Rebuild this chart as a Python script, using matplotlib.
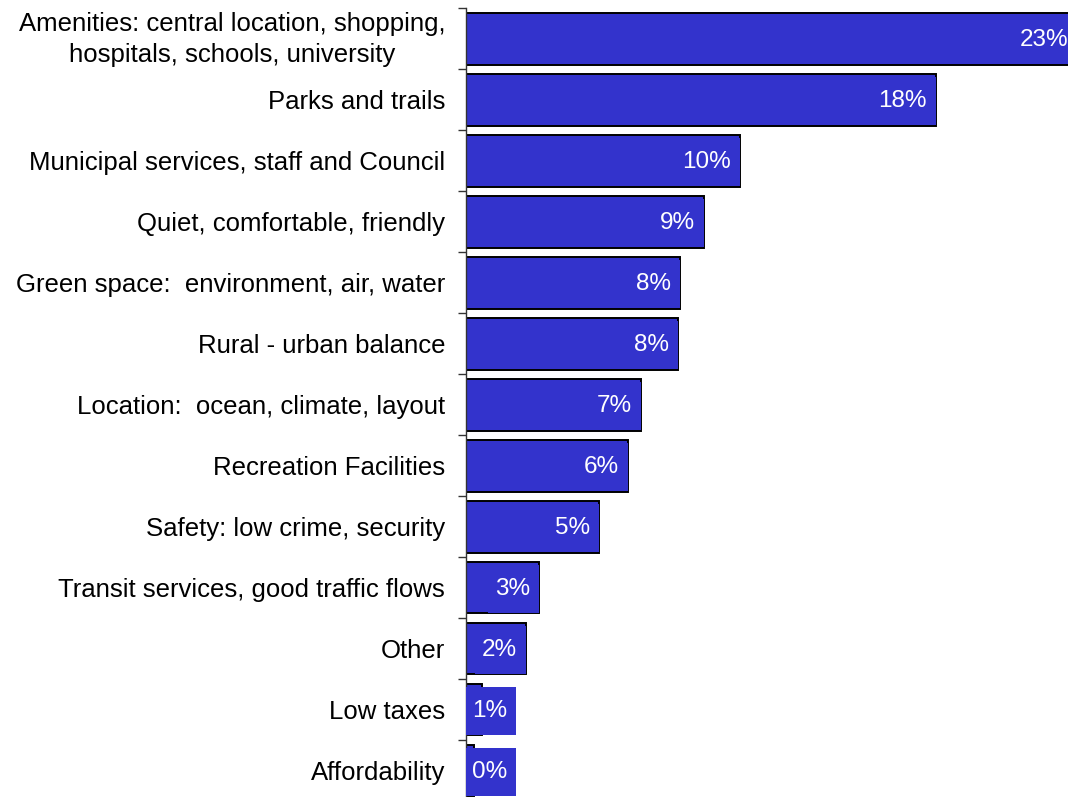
import matplotlib
matplotlib.use("Agg")
import matplotlib.pyplot as plt
from matplotlib.patches import Rectangle
from matplotlib.ticker import FixedLocator, NullFormatter
from matplotlib.transforms import ScaledTranslation

categories = [
    "Amenities: central location, shopping,\nhospitals, schools, university",
    "Parks and trails",
    "Municipal services, staff and Council",
    "Quiet, comfortable, friendly",
    "Green space:  environment, air, water",
    "Rural - urban balance",
    "Location:  ocean, climate, layout",
    "Recreation Facilities",
    "Safety: low crime, security",
    "Transit services, good traffic flows",
    "Other",
    "Low taxes",
    "Affordability",
]
values = [23.4, 18.0, 10.5, 9.1, 8.2, 8.1, 6.7, 6.2, 5.1, 2.8, 2.3, 0.6, 0.3]
labels = ["23%", "18%", "10%", "9%", "8%", "8%", "7%", "6%", "5%", "3%", "2%", "1%", "0%"]

BLUE = "#3333CC"
plt.rcParams["font.family"] = ["Liberation Sans", "DejaVu Sans"]

W, H = 1068, 797
fig = plt.figure(figsize=(W / 100, H / 100), dpi=100)
ax = fig.add_axes([466 / W, 0.0, 1 - 466 / W, 1 - 8.3 / H])

n = len(categories)
ypos = list(range(n))
bar_h = 0.85
ax.barh(ypos, values, height=bar_h, color=BLUE, edgecolor="black", linewidth=1.4, zorder=2)

ax.set_xlim(0, 23.05)
ax.set_ylim(n - 0.5 - 4 / 61, -0.5)

ax.set_yticks(ypos)
ax.set_yticklabels(categories, fontsize=18.5)
for t in ax.get_yticklabels():
    t.set_multialignment("center")
    t.set_linespacing(1.35)
ax.yaxis.set_minor_locator(FixedLocator([i - 0.5 for i in range(n + 1)]))
ax.yaxis.set_minor_formatter(NullFormatter())
ax.tick_params(axis="y", which="major", length=0, pad=15)
ax.tick_params(axis="y", which="minor", length=6, width=1, color="#333333")
ax.set_xticks([])
for s in ["top", "right", "bottom"]:
    ax.spines[s].set_visible(False)
ax.spines["left"].set_color("#333333")
ax.spines["left"].set_linewidth(1)

# nudge the two-line label up a little
first = ax.get_yticklabels()[0]
first.set_transform(first.get_transform() + ScaledTranslation(0, 5 / 100, fig.dpi_scale_trans))

# value labels
fig.canvas.draw()
px_per_unit = ax.transData.transform((1, 0))[0] - ax.transData.transform((0, 0))[0]
px_per_row = abs(ax.transData.transform((0, 1))[1] - ax.transData.transform((0, 0))[1])
min_right = 50 / px_per_unit
renderer = fig.canvas.get_renderer()
for y, v, lab in zip(ypos, values, labels):
    right = max(v, min_right)
    t = ax.annotate(lab, xy=(right, y), xytext=(-9, -1), textcoords="offset pixels",
                    ha="right", va="center", color="white", fontsize=17.5, zorder=4,
                    annotation_clip=False)
    bb = t.get_window_extent(renderer)
    w = (bb.width + 16) / px_per_unit
    hgt = 48 / px_per_row
    ax.add_patch(Rectangle((right - w, y - hgt / 2 + 1.5 / px_per_row), w, hgt,
                           facecolor=BLUE, edgecolor="none", zorder=3))

fig.savefig("out.png", dpi=100)
